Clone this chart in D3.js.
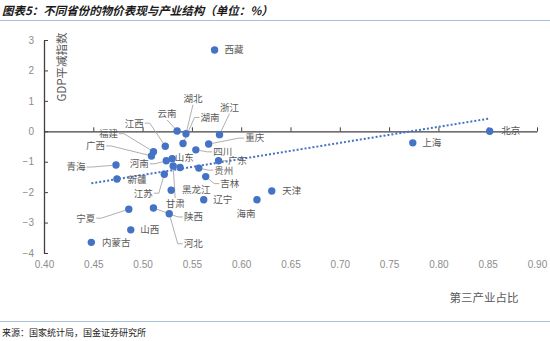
<!DOCTYPE html>
<html>
<head>
<meta charset="utf-8">
<script src="https://cdn.jsdelivr.net/npm/d3@7"></script>
<style>
  html, body { margin: 0; padding: 0; background: #fff; }
  svg { display: block; font-family: "Noto Sans CJK SC", "Noto Sans", sans-serif; }
</style>
</head>
<body>
<svg id="chart" width="550" height="341"></svg>
<script>
// Provinces: share of tertiary industry (x) vs GDP deflator (y)
const provinces = ["北京","上海","西藏","天津","海南","云南","湖北","湖南","浙江","重庆",
  "江西","福建","广西","四川","山东","河南","广东","甘肃","安徽","贵州",
  "吉林","青海","新疆","江苏","黑龙江","辽宁","宁夏","陕西","河北","山西","内蒙古"];
const tertiaryShare = [0.852,0.774,0.573,0.631,0.616,0.535,0.544,0.541,0.578,0.567,
  0.523,0.511,0.509,0.554,0.530,0.524,0.577,0.531,0.538,0.557,
  0.564,0.473,0.474,0.522,0.529,0.562,0.486,0.511,0.527,0.488,0.448];
const gdpDeflator = [0.00,-0.38,2.67,-1.96,-2.25,0.01,-0.08,-0.40,-0.11,-0.42,
  -0.49,-0.67,-0.81,-0.61,-0.90,-0.97,-0.97,-1.14,-1.19,-1.21,
  -1.49,-1.11,-1.57,-1.41,-1.94,-2.25,-2.56,-2.52,-2.71,-3.24,-3.65];
// Linear trend line end points (x, y)
const trendX = [0.448, 0.852];
const trendY = [-1.71, 0.42];

const xTicks = [0.40,0.45,0.50,0.55,0.60,0.65,0.70,0.75,0.80,0.85,0.90];
const yTicks = [3,2,1,0,-1,-2,-3,-4];

// Label placement: offset of label centre from its point, and whether a leader is drawn
const labelPlacement = {
  "北京":[21,-1,0], "上海":[19,0,0], "西藏":[19.5,0,0], "天津":[20,0,0], "海南":[-11,14,0],
  "云南":[-10,-17,1], "湖北":[7,-35,1], "湖南":[27,-26,1], "浙江":[10,-27,1], "重庆":[46,-6,1],
  "江西":[-31,-23,1], "福建":[-45,-18,1], "广西":[-56,-10,1], "四川":[27,2,1], "山东":[12,-1,0],
  "河南":[-27,3,1], "广东":[19,0,1], "甘肃":[2,38,1], "贵州":[25,2,1],
  "吉林":[24,7,1], "青海":[-40,2,1], "新疆":[20,1,0], "江苏":[-21,19,1], "黑龙江":[25,-1,0],
  "辽宁":[19,0,0], "宁夏":[-43,9,1], "陕西":[40,9,1], "河北":[24,30,1], "山西":[19,0,0],
  "内蒙古":[25,0,0]
};

const svg = d3.select("#chart");
const x = d3.scaleLinear().domain([0.40, 0.90]).range([44, 537]);
const y = d3.scaleLinear().domain([-4, 3]).range([253, 40]);

const fontCJK = "'Noto Sans CJK SC', sans-serif";
const fontNum = "'Liberation Sans', Arial, sans-serif";

// Title and frame lines
svg.append("text")
  .attr("x", 2).attr("y", 14.5)
  .attr("font-size", 11.5).attr("font-weight", "bold").attr("font-style", "italic")
  .attr("fill", "#1a1a1a").attr("font-family", fontCJK)
  .text("图表5：不同省份的物价表现与产业结构（单位：%）");
svg.append("line").attr("x1", 0).attr("x2", 550).attr("y1", 20.5).attr("y2", 20.5)
  .attr("stroke", "#a9bfd6").attr("stroke-width", 1);
svg.append("line").attr("x1", 0).attr("x2", 550).attr("y1", 321.5).attr("y2", 321.5)
  .attr("stroke", "#a9bfd6").attr("stroke-width", 1);
svg.append("text")
  .attr("x", 2).attr("y", 336)
  .attr("font-size", 9).attr("fill", "#222").attr("font-family", fontCJK)
  .text("来源：国家统计局，国金证券研究所");

// Y axis (ticks pointing inward)
const yAxis = svg.append("g")
  .attr("transform", `translate(${x(0.40)},0)`)
  .call(d3.axisLeft(y).tickValues(yTicks).tickFormat(d3.format("d"))
    .tickSizeInner(-4).tickSizeOuter(0).tickPadding(10));
yAxis.select(".domain").attr("stroke", "#404040").attr("stroke-width", 1.3);
yAxis.selectAll(".tick line").attr("stroke", "#404040").attr("stroke-width", 1);
yAxis.selectAll(".tick text").attr("fill", "#8c8c8c").attr("font-size", 10)
  .attr("font-family", fontNum);

// X axis line through y = 0, ticks pointing up
const xAxis = svg.append("g")
  .attr("transform", `translate(0,${y(0)})`)
  .call(d3.axisBottom(x).tickValues(xTicks).tickFormat("")
    .tickSizeInner(-4).tickSizeOuter(0));
xAxis.select(".domain").attr("stroke", "#404040").attr("stroke-width", 1.3);
xAxis.selectAll(".tick line").attr("stroke", "#404040").attr("stroke-width", 1);

// X tick labels along the bottom
const xLabels = svg.append("g")
  .attr("transform", `translate(0,${y(-4) + 3})`)
  .call(d3.axisBottom(x).tickValues(xTicks).tickFormat(d3.format(".2f"))
    .tickSize(0).tickPadding(5));
xLabels.select(".domain").remove();
xLabels.selectAll(".tick text").attr("fill", "#8c8c8c").attr("font-size", 10)
  .attr("font-family", fontNum);

// Axis titles
svg.append("text")
  .attr("transform", "translate(66,67) rotate(-90)")
  .attr("text-anchor", "middle")
  .attr("font-size", 11.5).attr("fill", "#595959").attr("font-family", fontCJK)
  .text("GDP平减指数");
svg.append("text")
  .attr("x", 484).attr("y", 302)
  .attr("text-anchor", "middle")
  .attr("font-size", 11.5).attr("fill", "#595959").attr("font-family", fontCJK)
  .text("第三产业占比");

// Trend line
svg.append("line")
  .attr("x1", x(trendX[0])).attr("y1", y(trendY[0]))
  .attr("x2", x(trendX[1])).attr("y2", y(trendY[1]))
  .attr("stroke", "#4472C4").attr("stroke-width", 2)
  .attr("stroke-dasharray", "2,2");

const points = provinces.map((name, i) => ({
  name, px: x(tertiaryShare[i]), py: y(gdpDeflator[i])
}));

const r = 3.7;
const labelSize = 9.5;
const labelG = svg.append("g");
const leaderG = svg.append("g");

points.forEach(p => {
  const place = labelPlacement[p.name];
  if (!place) return;
  const [dx, dy, leader] = place;
  const cx = p.px + dx, cy = p.py + dy;
  labelG.append("text")
    .attr("x", cx).attr("y", cy)
    .attr("dy", "0.36em")
    .attr("text-anchor", "middle")
    .attr("font-size", labelSize).attr("fill", "#595959").attr("font-family", fontCJK)
    .text(p.name);
  if (!leader) return;
  const halfW = p.name.length * labelSize / 2;
  let pts;
  if (Math.abs(dy) > 14 && Math.abs(dx) < 15) {
    const sy = cy + (dy < 0 ? 6 : -6);
    pts = [[cx, sy]];
  } else {
    const sx = cx + (dx < 0 ? halfW + 1 : -halfW - 1);
    const ex = sx + (dx < 0 ? 5 : -5);
    pts = [[sx, cy], [ex, cy]];
  }
  const last = pts[pts.length - 1];
  const vx = p.px - last[0], vy = p.py - last[1];
  const len = Math.hypot(vx, vy);
  if (len > r) pts.push([p.px - vx / len * r, p.py - vy / len * r]);
  leaderG.append("path")
    .attr("d", d3.line()(pts))
    .attr("fill", "none").attr("stroke", "#a6a6a6").attr("stroke-width", 0.9);
});

// Scatter points
svg.append("g").selectAll("circle")
  .data(points).join("circle")
  .attr("cx", d => d.px).attr("cy", d => d.py).attr("r", r)
  .attr("fill", "#4472C4");
</script>
</body>
</html>
